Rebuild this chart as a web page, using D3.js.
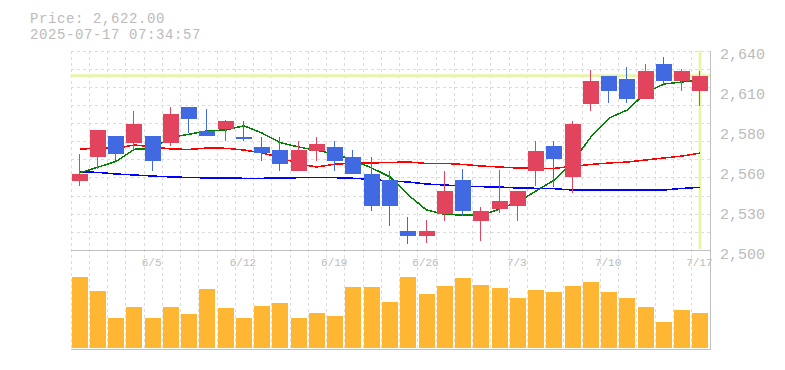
<!DOCTYPE html>
<html><head><meta charset="utf-8">
<script src="https://cdn.jsdelivr.net/npm/d3@7"></script>
<style>
body{margin:0;background:#fff}
svg{display:block}
text{font-family:"Liberation Mono","DejaVu Sans Mono",monospace;fill:#bbbbbb}
</style>
</head><body>
<svg id="c" width="785" height="370"></svg>
<script>
// ---- data ----
const dates = ["5/30","6/2","6/3","6/4","6/5","6/6","6/9","6/10","6/11","6/12","6/13",
  "6/16","6/17","6/18","6/19","6/20","6/23","6/24","6/25","6/26","6/27","6/30",
  "7/1","7/2","7/3","7/4","7/7","7/8","7/9","7/10","7/11","7/14","7/15","7/16","7/17"];
const open  = [2548,2565,2580,2575,2580,2575,2600,2583,2585,2579,2572,2570,2555,2569,2572,2565,2553,2549,2513,2510,2525,2549,2520,2529,2531,2555,2573,2551,2602,2622,2620,2606,2630,2618,2611];
const high  = [2567,2584,2580,2597,2580,2600,2600,2599,2591,2590,2579,2579,2576,2579,2576,2570,2565,2555,2523,2521,2555,2557,2530,2556,2541,2576,2576,2590,2626,2622,2628,2630,2635,2627,2625];
const low   = [2545,2557,2562,2570,2555,2573,2582,2580,2576,2576,2562,2555,2555,2562,2555,2553,2527,2517,2504,2505,2520,2524,2506,2526,2520,2545,2544,2540,2597,2603,2603,2606,2616,2611,2601];
const close = [2553,2584,2567,2588,2562,2595,2592,2580,2590,2578,2568,2560,2570,2574,2562,2553,2531,2531,2510,2513,2541,2527,2527,2534,2541,2569,2564,2588,2618,2611,2606,2625,2618,2625,2622];
const volume = [71000,57000,30000,41000,30000,41000,34000,59000,40000,30000,42000,45000,30000,35000,32000,61000,61000,46000,71000,54000,62000,70000,63000,60000,50000,58000,56000,62000,66000,56000,50000,41000,26000,38000,35000];
const ma5  = [2554,2558,2562,2570.5,2571,2579,2581,2583.5,2584,2587,2581.8,2575.1,2572.1,2569.7,2567.2,2562.7,2557.4,2551.1,2538.5,2528,2524.9,2524.5,2524.2,2528.7,2533.6,2541.3,2549,2561.6,2579.1,2592.4,2598,2609.9,2616.2,2617.6,2619];
const ma25 = [2570.5,2571.4,2571.2,2573.5,2572.3,2570.7,2570.4,2571.4,2571.2,2570,2567.9,2564.8,2560.2,2558.1,2560.2,2560.6,2560.9,2561.3,2561.6,2560.6,2560.6,2559.9,2558.8,2558.1,2557.4,2557.2,2557.2,2558.5,2559.9,2560.9,2561.6,2563,2564.4,2565.8,2567.9];
const ma75 = [2554.8,2554.3,2553.2,2552.5,2551.8,2551.1,2550.8,2550.4,2550.4,2550.2,2550.2,2550.4,2550.6,2550.6,2550.6,2550.2,2549.4,2548.3,2547.6,2546.2,2545.5,2544.8,2544.3,2544.1,2543.4,2543.2,2542.9,2542,2542,2542,2542,2542,2542,2543.1,2543.9];
const yTickValues = [2500,2528,2556,2584,2612,2640];
const yTickLabels = ["2,500","2,530","2,560","2,580","2,610","2,640"];
const xTickLabels = ["6/5","6/12","6/19","6/26","7/3","7/10","7/17"];
const currentPrice = 2622;
const titleLines = ["Price: 2,622.00","2025-07-17 07:34:57"];

// ---- layout ----
const L=70.5, R=709.5, PT=50.5, PB=250, VB=348;
const svg = d3.select("#c");
const x = d3.scaleBand().domain(dates).range([L,R]).padding(0);
const bw = x.bandwidth();
const cx = d => x(d)+bw/2;
const y = d3.scaleLinear().domain([2500,2640]).range([250,50]);
const yv = d3.scaleLinear().domain([0,99000]).range([VB,249]);
const rows = dates.map((d,i)=>({d,o:open[i],h:high[i],l:low[i],c:close[i],v:volume[i]}));

// grid
const grid = svg.append("g").attr("stroke","#dcdcdc").attr("stroke-dasharray","3,3").attr("shape-rendering","crispEdges");
dates.forEach(d=>{
  const gx = Math.round(x(d))+0.5;
  grid.append("line").attr("x1",gx).attr("x2",gx).attr("y1",PT).attr("y2",349);
});
for(let k=0;k<11;k++){
  const gy = Math.round(PT+k*(PB-PT)/11)+0.5;
  grid.append("line").attr("x1",L).attr("x2",R).attr("y1",gy).attr("y2",gy);
}

// current price lines
const hl = "#e6f5aa";
svg.append("line").attr("x1",L).attr("x2",R+0.5).attr("y1",y(currentPrice)).attr("y2",y(currentPrice))
  .attr("stroke",hl).attr("stroke-width",3);
const lastX = Math.round(cx(dates[dates.length-1]));
svg.append("line").attr("x1",lastX).attr("x2",lastX).attr("y1",PT).attr("y2",249)
  .attr("stroke",hl).attr("stroke-width",3);

// moving averages
const lineGen = arr => d3.line().x((v,i)=>cx(dates[i])).y(v=>y(v))(arr);
[[ma75,"#0000ff"],[ma25,"#ff0000"],[ma5,"#008000"]].forEach(([arr,col])=>{
  svg.append("path").attr("d",lineGen(arr)).attr("fill","none").attr("stroke",col)
    .attr("stroke-width",1.5).attr("shape-rendering","crispEdges");
});

// candles
const up="#e2435d", down="#4169e1";
const cg = svg.append("g").attr("shape-rendering","crispEdges");
rows.forEach(r=>{
  const col = r.c>=r.o ? up : down;
  const mx = Math.round(cx(r.d));
  cg.append("line").attr("x1",mx-0.5).attr("x2",mx-0.5).attr("y1",Math.round(y(r.h))).attr("y2",Math.round(y(r.l)))
    .attr("stroke",col).attr("stroke-width",1);
  const top = Math.round(y(Math.max(r.o,r.c))), bot = Math.round(y(Math.min(r.o,r.c)));
  cg.append("rect").attr("x",mx-8).attr("width",16).attr("y",top).attr("height",Math.max(1,bot-top)).attr("fill",col);
});

// volume
svg.append("g").attr("shape-rendering","crispEdges").selectAll("rect").data(rows).join("rect")
  .attr("x",r=>Math.round(cx(r.d))-8).attr("width",16)
  .attr("y",r=>Math.round(yv(r.v))).attr("height",r=>VB-Math.round(yv(r.v)))
  .attr("fill","#ffb733");

// x labels
const xa = svg.append("g").attr("transform",`translate(0,${PB})`)
  .call(d3.axisBottom(x).tickValues(xTickLabels).tickSize(0).tickPadding(0));
xa.select(".domain").remove();
xa.selectAll("text").attr("y",16).attr("dy",0).attr("dx",-1).style("font-size","11px").style("font-family",'"Liberation Mono",monospace').attr("fill","#bbbbbb");

// borders
const bd = svg.append("g").attr("stroke","#c0c0c0").attr("shape-rendering","crispEdges");
bd.append("line").attr("x1",L).attr("x2",710).attr("y1",250.5).attr("y2",250.5);
bd.append("line").attr("x1",L).attr("x2",710).attr("y1",349.5).attr("y2",349.5);
bd.append("line").attr("x1",710.5).attr("x2",710.5).attr("y1",PT).attr("y2",350);

// y labels
const ya = svg.append("g").attr("transform","translate(710,0)")
  .call(d3.axisRight(y).tickValues(yTickValues).tickFormat((d,i)=>yTickLabels[i]).tickSize(0).tickPadding(10));
ya.select(".domain").remove();
ya.selectAll("text").attr("dy",8).style("font-size","15px").style("font-family",'"Liberation Mono",monospace').attr("fill","#bbbbbb");

// title
svg.selectAll(".title").data(titleLines).join("text").attr("class","title")
  .attr("x",30).attr("y",(d,i)=>22.5+i*16).style("font-size","14px").style("letter-spacing","0.6px").text(d=>d);
</script>
</body></html>
